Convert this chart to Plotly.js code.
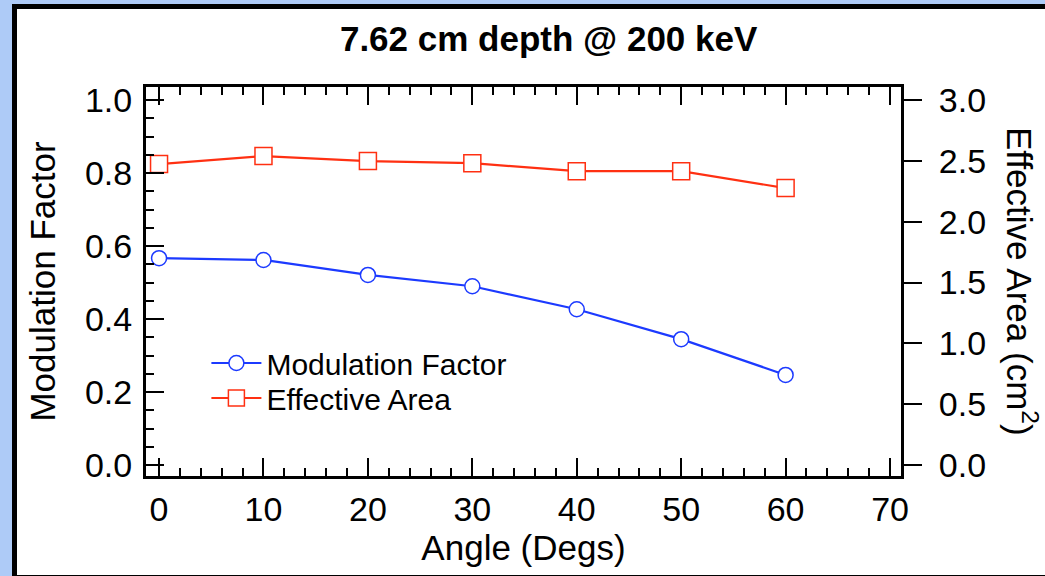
<!DOCTYPE html>
<html>
<head>
<meta charset="utf-8">
<script src="https://cdn.plot.ly/plotly-3.0.1.min.js"></script>
<style>
  html, body { margin:0; padding:0; width:1045px; height:576px; overflow:hidden; background:#aecbf7; }
  #frame { position:absolute; left:12px; top:4px; width:1100px; height:566px; background:#fff;
           border-left:5px solid #000; border-top:5px solid #000; border-bottom:2px solid #000; }
  #chart { position:absolute; left:0; top:0; width:1045px; height:576px; }
</style>
</head>
<body>
<div id="frame"></div>
<div id="chart"></div>
<script>
const angles = [0, 10, 20, 30, 40, 50, 60];
const modulationFactor = [0.567, 0.562, 0.521, 0.490, 0.427, 0.345, 0.247];
const effectiveArea = [2.474, 2.540, 2.499, 2.482, 2.416, 2.416, 2.277];

const blue = 'rgb(28,58,255)';
const red = 'rgb(255,48,18)';
const font = 'Liberation Sans, Arial, sans-serif';

const traces = [
  {
    x: angles, y: modulationFactor, name: 'Modulation Factor', type: 'scatter', mode: 'lines+markers',
    line: {color: blue, width: 2.2},
    marker: {symbol: 'circle', size: 15, color: '#fff', line: {color: blue, width: 1.5}},
    xaxis: 'x', yaxis: 'y', legend: 'legend'
  },
  {
    x: angles, y: effectiveArea, name: 'Effective Area', type: 'scatter', mode: 'lines+markers',
    line: {color: red, width: 2.2},
    marker: {symbol: 'square', size: 17, color: '#fff', line: {color: red, width: 1.5}},
    xaxis: 'x', yaxis: 'y2', legend: 'legend2'
  }
];

const legendBase = {bgcolor: 'rgba(0,0,0,0)', font: {size: 30, family: font}, itemwidth: 50,
                    xanchor: 'left', yanchor: 'middle', x: 0.08};

const layout = {
  width: 1045, height: 576,
  paper_bgcolor: 'rgba(0,0,0,0)', plot_bgcolor: 'rgba(0,0,0,0)',
  margin: {l: 146, r: 144, t: 87, b: 100},
  font: {family: font, color: '#000'},
  title: {text: '<b>7.62 cm depth @ 200 keV</b>', font: {size: 35, family: font}, x: 0.525, xanchor: 'center', y: 0.932, yanchor: 'middle'},
  showlegend: true,
  legend: Object.assign({}, legendBase, {y: 0.2905}),
  legend2: Object.assign({}, legendBase, {y: 0.2005}),
  xaxis: {
    range: [-1.25, 71.05], dtick: 10, tick0: 0,
    ticks: 'inside', ticklen: 18, tickwidth: 2, tickcolor: '#000',
    minor: {dtick: 2, tick0: 0, ticks: 'inside', ticklen: 8, tickwidth: 2, tickcolor: '#000'},
    showline: true, linewidth: 3, linecolor: '#000', mirror: 'ticks',
    showgrid: false, zeroline: false,
    tickfont: {size: 34}, ticklabelstandoff: 1,
    title: {text: 'Angle (Degs)', font: {size: 35}, standoff: 2}
  },
  yaxis: {
    range: [-0.03, 1.036], dtick: 0.2, tick0: 0, tickformat: '.1f',
    ticks: 'inside', ticklen: 18, tickwidth: 2, tickcolor: '#000',
    minor: {dtick: 0.05, tick0: 0, ticks: 'inside', ticklen: 8, tickwidth: 2, tickcolor: '#000'},
    showline: true, linewidth: 3, linecolor: '#000', mirror: false,
    showgrid: false, zeroline: false,
    tickfont: {size: 34}, ticklabelstandoff: 4,
    title: {text: 'Modulation Factor', font: {size: 35}, standoff: 19}
  },
  yaxis2: {
    range: [-0.09, 3.108], dtick: 0.5, tick0: 0, tickformat: '.1f',
    overlaying: 'y', side: 'right',
    ticks: 'outside', ticklen: 18, tickwidth: 2, tickcolor: '#000',
    showline: true, linewidth: 3, linecolor: '#000',
    showgrid: false, zeroline: false,
    tickfont: {size: 34}, ticklabelstandoff: 10
  },
  annotations: [
    {text: 'Effective Area (cm<sup>2</sup>)', textangle: 90, xref: 'paper', yref: 'paper',
     x: 1.161, y: 0.5, xanchor: 'center', yanchor: 'middle', showarrow: false,
     font: {size: 35, family: font}}
  ]
};

Plotly.newPlot('chart', traces, layout, {staticPlot: true, displayModeBar: false});
</script>
</body>
</html>
